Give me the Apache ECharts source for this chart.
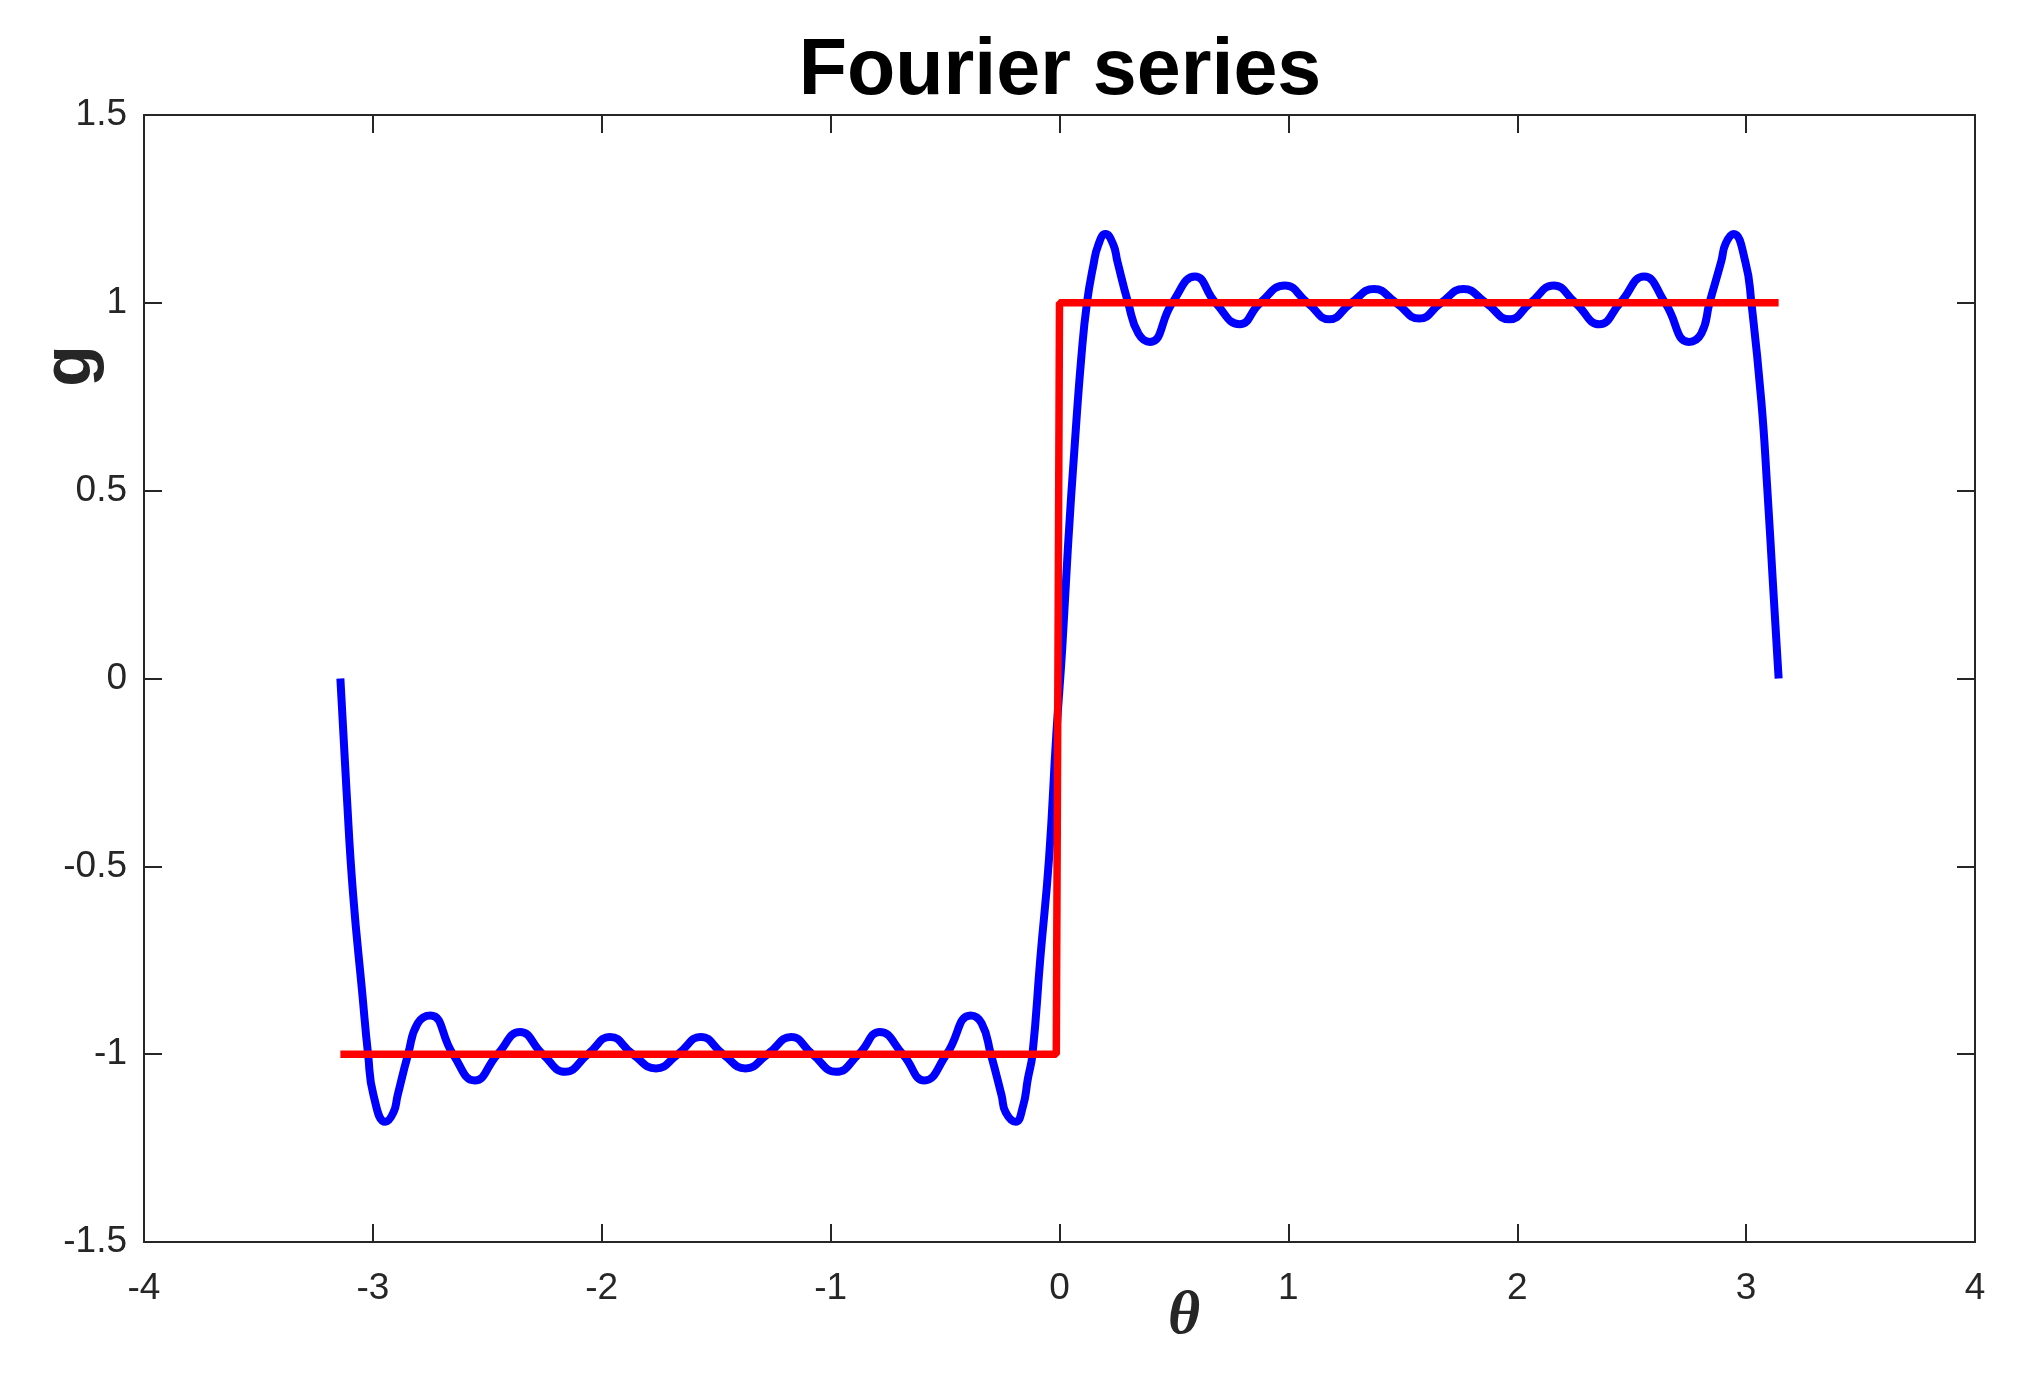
<!DOCTYPE html>
<html>
<head>
<meta charset="utf-8">
<title>Fourier series</title>
<script src="https://cdn.jsdelivr.net/npm/echarts@6/dist/echarts.min.js"></script>
<style>
  html, body { margin: 0; padding: 0; background: #fff; }
  #chart { width: 2035px; height: 1375px; }
</style>
</head>
<body>
<div id="chart"></div>
<script>
// partial sum (blue): ends, extrema, crossings of +-1, the steep parts
const thetaBlue = [
  -3.142, -3.115, -3.087, -3.046, -3.021, -2.997, -2.945, -2.910, -2.892, -2.846, -2.804, -2.748,
  -2.650, -2.555, -2.455, -2.357, -2.258, -2.160, -2.060, -1.963, -1.865, -1.763, -1.667, -1.567,
  -1.470, -1.372, -1.275, -1.172, -1.080, -0.976, -0.877, -0.785, -0.685, -0.590, -0.493,
  -0.388, -0.340, -0.300, -0.253, -0.235, -0.192, -0.160, -0.138, -0.118, -0.084, -0.046, -0.014,
  0.0125, 0.037, 0.066, 0.0955, 0.120, 0.148, 0.170, 0.2005, 0.235, 0.253, 0.300, 0.345, 0.396,
  0.493, 0.592, 0.682, 0.787, 0.877, 0.985, 1.084, 1.179, 1.275, 1.374, 1.471, 1.572, 1.667,
  1.765, 1.863, 1.966, 2.058, 2.159, 2.254, 2.359, 2.450, 2.554, 2.646,
  2.750, 2.804, 2.840, 2.892, 2.910, 2.945, 2.997, 3.023, 3.066, 3.093, 3.117, 3.142
];
const gBlue = [
  0.0, -0.30, -0.57, -0.84, -1.0, -1.11, -1.18, -1.155, -1.11, -1.0, -0.918, -0.897,
  -1.0, -1.07, -1.0, -0.941, -1.0, -1.047, -1.0, -0.954, -1.0, -1.038, -1.0, -0.954,
  -1.0, -1.038, -1.0, -0.954, -1.0, -1.047, -1.0, -0.941, -1.0, -1.07, -1.0,
  -0.897, -0.918, -1.0, -1.11, -1.155, -1.18, -1.14, -1.065, -1.0, -0.746, -0.481, -0.15,
  0.086, 0.351, 0.617, 0.856, 1.0, 1.10, 1.155, 1.183, 1.155, 1.11, 1.0, 0.918, 0.896,
  1.0, 1.07, 1.0, 0.943, 1.0, 1.046, 1.0, 0.956, 1.0, 1.037, 1.0, 0.958, 1.0,
  1.037, 1.0, 0.956, 1.0, 1.046, 1.0, 0.943, 1.0, 1.07, 1.0,
  0.896, 0.918, 1.0, 1.112, 1.157, 1.183, 1.108, 1.0, 0.741, 0.5, 0.254, 0.0
];

// square wave (red)
const thetaStep = [-3.142, -0.014, 0.0, 3.142];
const gStep = [-1, -1, 1, 1];

// axis ticks
const xTicks = [-4, -3, -2, -1, 0, 1, 2, 3, 4];
const yTicks = [-1.5, -1, -0.5, 0, 0.5, 1, 1.5];

const axisColor = '#262626';

function boxAxis(ticks, position, showLabels) {
  return {
    type: 'value',
    position: position,
    min: ticks[0],
    max: ticks[ticks.length - 1],
    interval: ticks[1] - ticks[0],
    axisLine: { show: true, onZero: false, lineStyle: { color: axisColor, width: 2 } },
    axisTick: { show: true, inside: true, length: 18, lineStyle: { color: axisColor, width: 2 } },
    axisLabel: {
      show: showLabels,
      fontSize: 37,
      fontFamily: 'Liberation Sans',
      color: axisColor,
      margin: (position === 'bottom') ? 28 : 17
    },
    splitLine: { show: false }
  };
}

const chart = echarts.init(document.getElementById('chart'));

chart.setOption({
  animation: false,
  backgroundColor: '#fff',
  grid: { left: 144, right: 60, top: 115, bottom: 133 },
  xAxis: [boxAxis(xTicks, 'bottom', true), boxAxis(xTicks, 'top', false)],
  yAxis: [boxAxis(yTicks, 'left', true), boxAxis(yTicks, 'right', false)],
  series: [
    {
      type: 'line',
      data: thetaBlue.map((t, i) => [t, gBlue[i]]),
      showSymbol: false,
      smooth: 0.5,
      lineStyle: { color: '#0000ff', width: 8 }
    },
    {
      type: 'line',
      data: thetaStep.map((t, i) => [t, gStep[i]]),
      showSymbol: false,
      lineStyle: { color: '#ff0000', width: 7.5 }
    }
  ],
  graphic: [
    {
      type: 'text', x: 1060, y: 72,
      style: { text: 'Fourier series', fontSize: 79, fontWeight: 'bold', fontFamily: 'Liberation Sans',
               fill: '#000', align: 'center', verticalAlign: 'middle' }
    },
    {
      type: 'text', x: 1184, y: 1317,
      style: { text: 'θ', fontSize: 62, fontStyle: 'italic', fontWeight: 'bold', fontFamily: 'Liberation Serif',
               fill: '#262626', align: 'center', verticalAlign: 'middle' }
    },
    {
      type: 'text', x: 71, y: 366, rotation: Math.PI / 2,
      style: { text: 'g', fontSize: 68, fontWeight: 'bold', fontFamily: 'Liberation Sans',
               fill: '#262626', align: 'center', verticalAlign: 'middle' }
    }
  ]
});
</script>
</body>
</html>
